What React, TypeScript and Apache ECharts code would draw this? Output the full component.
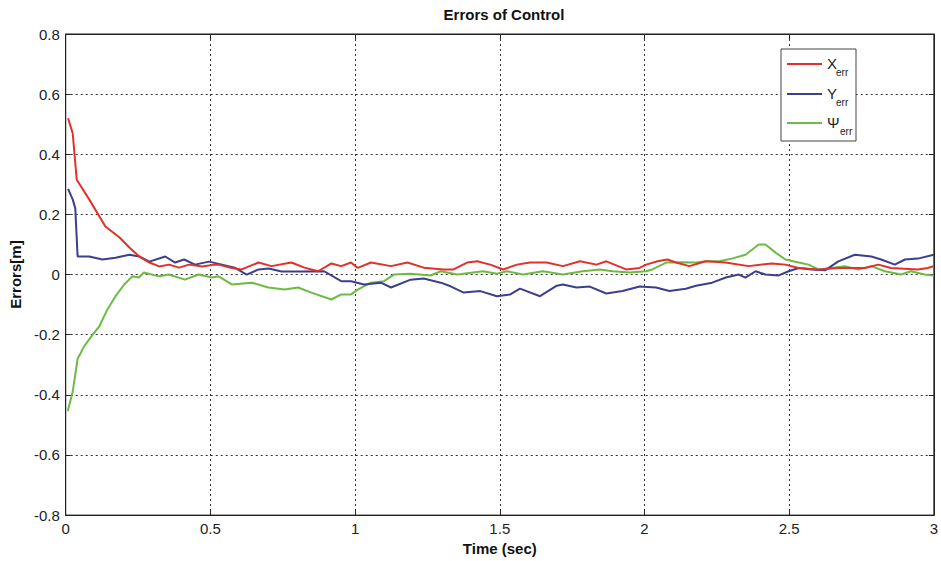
import React, { useEffect, useRef } from "react";
import * as echarts from "echarts";

const titleText = "Errors of Control";
const xAxisName = "Time (sec)";
const yAxisName = "Errors[m]";
const xTicks = [0, 0.5, 1, 1.5, 2, 2.5, 3];
const yTicks = [-0.8, -0.6, -0.4, -0.2, 0, 0.2, 0.4, 0.6, 0.8];

// [time (s), error]
const xErr: [number, number][] = [
  [0.008, 0.52], [0.024, 0.47], [0.038, 0.315], [0.081, 0.25], [0.137, 0.16],
  [0.186, 0.123], [0.22, 0.09], [0.254, 0.06], [0.289, 0.04], [0.323, 0.027],
  [0.357, 0.033], [0.392, 0.023], [0.426, 0.033], [0.471, 0.027], [0.515, 0.033],
  [0.528, 0.033], [0.574, 0.022], [0.608, 0.017], [0.666, 0.04], [0.711, 0.028],
  [0.78, 0.04], [0.825, 0.023], [0.872, 0.011], [0.918, 0.037], [0.952, 0.028],
  [0.986, 0.04], [1.009, 0.022], [1.055, 0.04], [1.124, 0.028], [1.181, 0.04],
  [1.237, 0.023], [1.306, 0.017], [1.34, 0.017], [1.387, 0.04], [1.422, 0.044],
  [1.467, 0.033], [1.512, 0.017], [1.559, 0.033], [1.605, 0.04], [1.662, 0.04],
  [1.718, 0.028], [1.777, 0.044], [1.834, 0.033], [1.868, 0.044], [1.937, 0.017],
  [1.983, 0.022], [2.006, 0.033], [2.045, 0.044], [2.079, 0.05], [2.109, 0.04],
  [2.155, 0.028], [2.212, 0.044], [2.28, 0.04], [2.36, 0.028], [2.44, 0.037],
  [2.487, 0.033], [2.533, 0.022], [2.601, 0.017], [2.67, 0.022], [2.762, 0.022],
  [2.808, 0.033], [2.852, 0.022], [2.945, 0.017], [2.979, 0.022], [3.0, 0.028],
];

const yErr: [number, number][] = [
  [0.008, 0.285], [0.024, 0.25], [0.033, 0.22], [0.041, 0.06], [0.081, 0.06],
  [0.127, 0.05], [0.172, 0.056], [0.22, 0.066], [0.254, 0.06], [0.289, 0.043],
  [0.344, 0.06], [0.378, 0.04], [0.409, 0.05], [0.447, 0.033], [0.495, 0.043],
  [0.54, 0.033], [0.584, 0.023], [0.625, 0.0], [0.667, 0.017], [0.701, 0.02],
  [0.746, 0.01], [0.814, 0.01], [0.893, 0.011], [0.952, -0.022], [0.986, -0.022],
  [1.031, -0.033], [1.089, -0.027], [1.124, -0.043], [1.192, -0.017], [1.237, -0.013],
  [1.296, -0.027], [1.33, -0.039], [1.375, -0.06], [1.433, -0.055], [1.49, -0.072],
  [1.536, -0.066], [1.57, -0.047], [1.639, -0.072], [1.697, -0.037], [1.718, -0.033],
  [1.765, -0.043], [1.811, -0.04], [1.868, -0.063], [1.924, -0.055], [1.983, -0.04],
  [2.04, -0.043], [2.086, -0.055], [2.143, -0.047], [2.178, -0.037], [2.234, -0.027],
  [2.281, -0.01], [2.326, 0.0], [2.349, -0.01], [2.384, 0.011], [2.418, 0.0],
  [2.464, -0.003], [2.498, 0.011], [2.533, 0.022], [2.577, 0.017], [2.624, 0.014],
  [2.67, 0.044], [2.727, 0.066], [2.784, 0.06], [2.818, 0.05], [2.865, 0.033],
  [2.9, 0.05], [2.945, 0.053], [3.0, 0.066],
];

const psiErr: [number, number][] = [
  [0.007, -0.454], [0.024, -0.39], [0.041, -0.28], [0.064, -0.238], [0.093, -0.2],
  [0.116, -0.172], [0.144, -0.116], [0.172, -0.072], [0.202, -0.033], [0.23, -0.006],
  [0.253, -0.01], [0.27, 0.007], [0.322, -0.006], [0.356, 0.0], [0.412, -0.017],
  [0.459, 0.0], [0.505, -0.01], [0.528, -0.006], [0.574, -0.033], [0.643, -0.027],
  [0.7, -0.043], [0.756, -0.05], [0.803, -0.043], [0.849, -0.06], [0.918, -0.083],
  [0.952, -0.066], [0.986, -0.066], [1.009, -0.05], [1.055, -0.027], [1.1, -0.022],
  [1.134, 0.0], [1.192, 0.003], [1.261, -0.003], [1.296, 0.011], [1.353, 0.0],
  [1.443, 0.011], [1.49, 0.003], [1.525, 0.011], [1.581, 0.0], [1.649, 0.011],
  [1.718, 0.0], [1.787, 0.011], [1.845, 0.017], [1.89, 0.011], [1.948, 0.007],
  [2.006, 0.011], [2.027, 0.017], [2.075, 0.04], [2.131, 0.041], [2.178, 0.04],
  [2.212, 0.044], [2.258, 0.044], [2.302, 0.053], [2.349, 0.066], [2.395, 0.1],
  [2.418, 0.1], [2.453, 0.073], [2.487, 0.05], [2.533, 0.04], [2.567, 0.033],
  [2.601, 0.017], [2.646, 0.022], [2.693, 0.028], [2.739, 0.017], [2.784, 0.028],
  [2.831, 0.011], [2.887, 0.0], [2.921, 0.011], [2.968, 0.0], [3.0, -0.003],
];

const seriesNames = ["X", "Y", "\u03A8"];
const seriesColors = ["#e3302a", "#3b3f8f", "#6dbb43"];

const FONT = '"Liberation Sans Narrow", "Liberation Sans", Arial, sans-serif';

export default function App() {
  const ref = useRef<HTMLDivElement>(null);
  useEffect(() => {
    if (!ref.current) return;
    const chart = echarts.init(ref.current, undefined, { renderer: "svg" });
    const gridLine = { show: true, lineStyle: { color: "#333", type: [2, 3] as any, width: 1 } };
    const axisBase = {
      type: "value" as const,
      axisLine: { show: true, onZero: false, lineStyle: { color: "#222", width: 1 } },
      axisTick: { show: true, inside: true, length: 5, lineStyle: { color: "#222" } },
    };
    const legendX1 = 787, legendX2 = 822, textX = 827;
    const rows = [64, 94, 123];
    const subX = [836, 836, 840];
    const legendEls: any[] = [
      {
        type: "rect",
        shape: { x: 781, y: 49, width: 75, height: 92 },
        style: { fill: "#fff", stroke: "#444", lineWidth: 1 },
        z: 100,
      },
    ];
    seriesNames.forEach((n, i) => {
      legendEls.push({
        type: "line",
        shape: { x1: legendX1, y1: rows[i], x2: legendX2, y2: rows[i] },
        style: { stroke: seriesColors[i], lineWidth: 2 },
        z: 101,
      });
      legendEls.push({
        type: "text",
        x: textX,
        y: rows[i] - 1,
        style: {
          text: n,
          fill: "#222",
          font: `15px ${FONT}`,
          textAlign: "left",
          textVerticalAlign: "middle",
          align: "left",
          verticalAlign: "middle",
        },
        z: 101,
      });
      legendEls.push({
        type: "text",
        x: subX[i],
        y: rows[i] + 8,
        style: {
          text: "err",
          fill: "#222",
          font: `10px ${FONT}`,
          textAlign: "left",
          textVerticalAlign: "middle",
          align: "left",
          verticalAlign: "middle",
        },
        z: 101,
      });
    });

    chart.setOption({
      animation: false,
      backgroundColor: "#ffffff",
      title: {
        text: titleText,
        left: 499,
        textAlign: "center",
        top: 2,
        textStyle: { fontFamily: FONT, fontWeight: "bold", fontSize: 15, color: "#111" },
      },
      grid: {
        left: 63,
        right: 5,
        top: 34,
        bottom: 45,
        show: true,
        borderColor: "#222",
        borderWidth: 1,
        backgroundColor: "#fff",
      },
      xAxis: [
        {
          ...axisBase,
          min: 0,
          max: 3,
          interval: 0.5,
          position: "bottom",
          name: xAxisName,
          nameLocation: "middle",
          nameGap: 24,
          nameTextStyle: { fontFamily: FONT, fontWeight: "bold", fontSize: 15, color: "#111" },
          axisLabel: {
            fontFamily: FONT,
            fontSize: 15,
            color: "#222",
            margin: 6,
            formatter: (v: number) => {
              const t = xTicks.find((x) => Math.abs(x - v) < 1e-9);
              return t === undefined ? "" : String(t);
            },
          },
          splitLine: gridLine,
        },
        {
          ...axisBase,
          min: 0,
          max: 3,
          interval: 0.5,
          position: "top",
          axisLabel: { show: false },
          splitLine: { show: false },
        },
      ],
      yAxis: [
        {
          ...axisBase,
          min: -0.8,
          max: 0.8,
          interval: 0.2,
          position: "left",
          name: yAxisName,
          nameLocation: "middle",
          nameGap: 33,
          nameRotate: 90,
          nameTextStyle: { fontFamily: FONT, fontWeight: "bold", fontSize: 15, color: "#111" },
          axisLabel: {
            fontFamily: FONT,
            fontSize: 15,
            color: "#222",
            margin: 6,
            formatter: (v: number) => {
              const t = yTicks.find((y) => Math.abs(y - v) < 1e-9);
              return t === undefined ? "" : String(t);
            },
          },
          splitLine: gridLine,
        },
        {
          ...axisBase,
          min: -0.8,
          max: 0.8,
          interval: 0.2,
          position: "right",
          axisLabel: { show: false },
          splitLine: { show: false },
        },
      ],
      series: [xErr, yErr, psiErr].map((d, i) => ({
        name: seriesNames[i],
        type: "line",
        data: d,
        xAxisIndex: 0,
        yAxisIndex: 0,
        showSymbol: false,
        symbol: "none",
        lineStyle: { color: seriesColors[i], width: 2 },
        itemStyle: { color: seriesColors[i] },
        z: 10 - i,
      })),
      graphic: legendEls,
    });
    return () => chart.dispose();
  }, []);
  return <div ref={ref} style={{ width: 941, height: 561, position: "absolute", left: 0, top: 0 }} />;
}
